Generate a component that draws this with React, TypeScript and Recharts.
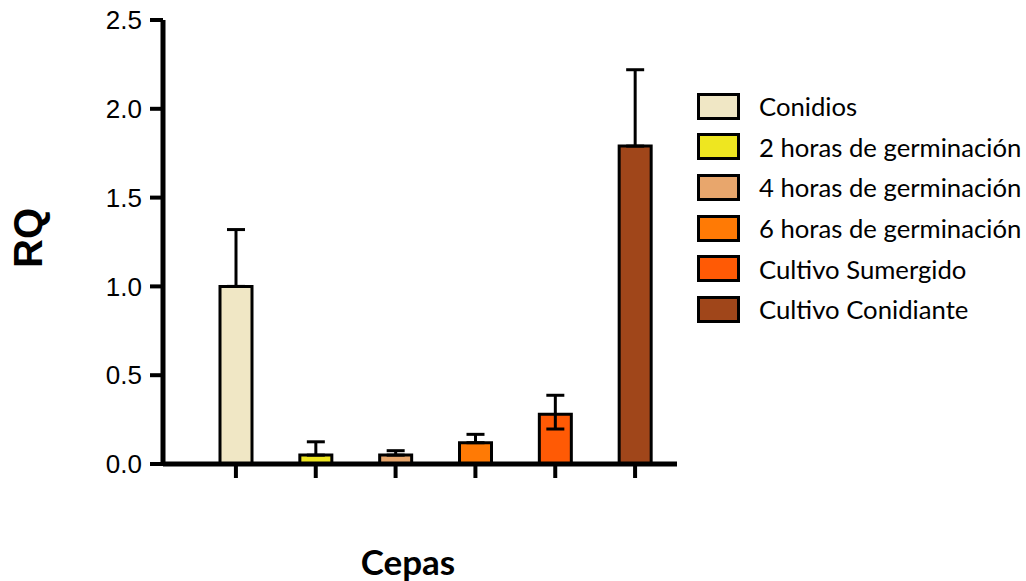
import React from 'react';
import { BarChart, Bar, XAxis, YAxis, Cell, ErrorBar, Label } from 'recharts';

const categories = [
  'Conidios',
  '2 horas de germinación',
  '4 horas de germinación',
  '6 horas de germinación',
  'Cultivo Sumergido',
  'Cultivo Conidiante',
];
const rqValues = [1.0, 0.05, 0.05, 0.12, 0.28, 1.79];
const errLower = [0, 0, 0, 0, 0.083, 0];
const errUpper = [0.32, 0.075, 0.025, 0.047, 0.107, 0.43];
const barColors = ['#F0E7C5', '#EEE620', '#E8A66C', '#FF7A05', '#FF5A05', '#A0461A'];
const yTicks = [0, 0.5, 1.0, 1.5, 2.0, 2.5];

const chartData = categories.map((name, i) => ({
  name,
  rq: rqValues[i],
  err: [errLower[i], errUpper[i]],
}));

// legend drawn beside the chart so it doesn't eat into the plot area
const LegendList = () => (
  <div
    style={{
      position: 'absolute',
      left: 697,
      top: 86,
      fontFamily: 'Lato, sans-serif',
      fontSize: 25.7,
      color: '#000',
    }}
  >
    {categories.map((name, i) => (
      <div key={name} style={{ display: 'flex', alignItems: 'center', height: 40.6 }}>
        <div
          style={{
            width: 37,
            height: 21,
            background: barColors[i],
            border: '3px solid #000',
            marginRight: 19,
          }}
        />
        <span style={{ whiteSpace: 'nowrap' }}>{name}</span>
      </div>
    ))}
  </div>
);

export default function App() {
  return (
    <div style={{ position: 'absolute', left: 0, top: 0, width: 1026, height: 581, background: '#fff' }}>
      <BarChart
        width={1026}
        height={581}
        data={chartData}
        margin={{ top: 20, right: 349, bottom: 0, left: 0 }}
        barCategoryGap={0}
      >
        <XAxis
          dataKey="name"
          height={117}
          padding={{ left: 33, right: 2 }}
          axisLine={{ stroke: '#000', strokeWidth: 5 }}
          tickLine={{ stroke: '#000', strokeWidth: 4 }}
          tickSize={14}
          tick={() => <g />}
          interval={0}
        >
          <Label
            content={() => (
              <text
                x={408}
                y={575}
                textAnchor="middle"
                style={{ fontFamily: 'Lato, sans-serif', fontWeight: 700, fontSize: 35, fill: '#000' }}
              >
                Cepas
              </text>
            )}
          />
        </XAxis>
        <YAxis
          width={163}
          domain={[0, 2.5]}
          ticks={yTicks}
          interval={0}
          tickFormatter={(v: number) => v.toFixed(1)}
          axisLine={{ stroke: '#000', strokeWidth: 5 }}
          tickLine={{ stroke: '#000', strokeWidth: 4 }}
          tickSize={13}
          tickMargin={8}
          tick={{ fill: '#000', fontSize: 26, fontFamily: '"Liberation Sans", Arial, sans-serif' }}
        >
          <Label
            content={() => (
              <text
                transform="translate(42,238) rotate(-90)"
                textAnchor="middle"
                style={{ fontFamily: '"Liberation Sans", Arial, sans-serif', fontWeight: 700, fontSize: 40, fill: '#000' }}
              >
                RQ
              </text>
            )}
          />
        </YAxis>
        <Bar dataKey="rq" barSize={32} stroke="#000" strokeWidth={3} isAnimationActive={false}>
          {chartData.map((d, i) => (
            <Cell key={d.name} fill={barColors[i]} />
          ))}
          <ErrorBar dataKey="err" direction="y" width={9} stroke="#000" strokeWidth={3} isAnimationActive={false} />
        </Bar>
      </BarChart>
      <LegendList />
    </div>
  );
}
